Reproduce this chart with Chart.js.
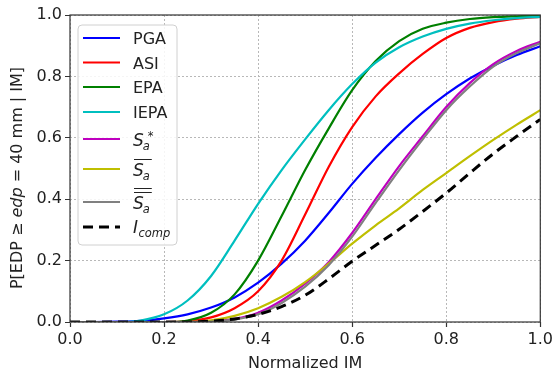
<!DOCTYPE html>
<html>
<head>
<meta charset="utf-8">
<script src="https://cdn.jsdelivr.net/npm/chart.js@4/dist/chart.umd.min.js"></script>
<style>
  html, body { margin: 0; padding: 0; background: #fff; }
  #wrap { width: 556px; height: 374px; }
</style>
</head>
<body>
<div id="wrap"><canvas id="c" width="556" height="374"></canvas></div>
<script>
// ---- data ----
const imValues = [0, 0.05, 0.1, 0.15, 0.2, 0.25, 0.3, 0.35, 0.4, 0.45, 0.5, 0.55, 0.6, 0.65, 0.7, 0.75, 0.8, 0.85, 0.9, 0.95, 1.0];
const pga    = [0, 0, 0.001, 0.004, 0.012, 0.025, 0.047, 0.08, 0.128, 0.19, 0.265, 0.355, 0.45, 0.535, 0.612, 0.682, 0.742, 0.793, 0.835, 0.87, 0.898];
const asi    = [0, 0, 0, 0, 0, 0.003, 0.015, 0.045, 0.1, 0.2, 0.35, 0.505, 0.635, 0.735, 0.81, 0.873, 0.925, 0.958, 0.977, 0.988, 0.994];
const epa    = [0, 0, 0, 0, 0, 0.005, 0.03, 0.09, 0.2, 0.345, 0.495, 0.63, 0.755, 0.85, 0.915, 0.955, 0.975, 0.987, 0.993, 0.996, 0.998];
const iepa   = [0, 0, 0, 0.005, 0.025, 0.07, 0.15, 0.265, 0.385, 0.495, 0.595, 0.69, 0.775, 0.845, 0.895, 0.93, 0.955, 0.972, 0.983, 0.99, 0.994];
const saStar = [0, 0, 0, 0, 0, 0, 0.002, 0.01, 0.03, 0.07, 0.125, 0.195, 0.29, 0.4, 0.508, 0.605, 0.7, 0.778, 0.84, 0.883, 0.913];
const saBar  = [0, 0, 0, 0, 0, 0, 0.005, 0.02, 0.045, 0.082, 0.13, 0.19, 0.255, 0.315, 0.37, 0.43, 0.485, 0.54, 0.593, 0.643, 0.69];
const saDbar = [0, 0, 0, 0, 0, 0, 0.001, 0.008, 0.025, 0.062, 0.115, 0.185, 0.278, 0.388, 0.495, 0.595, 0.69, 0.767, 0.832, 0.876, 0.908];
const iComp  = [0, 0, 0, 0, 0, 0, 0.003, 0.01, 0.025, 0.05, 0.087, 0.14, 0.198, 0.25, 0.302, 0.36, 0.42, 0.485, 0.548, 0.605, 0.66];
const tickValues = [0, 0.2, 0.4, 0.6, 0.8, 1.0];
const seriesNames = ['PGA', 'ASI', 'EPA', 'IEPA', 'Sa*', 'Sa_bar', 'Sa_dbar', 'I_comp'];
const xTitle = 'Normalized IM';

// ---- styles ----
const colors = ['#0000ff', '#ff0000', '#008000', '#00bfbf', '#bf00bf', '#bfbf00', '#808080', '#000000'];
const seriesData = [pga, asi, epa, iepa, saStar, saBar, saDbar, iComp];
const FONT = '"DejaVu Sans", sans-serif';

const datasets = seriesData.map((vals, i) => ({
  label: seriesNames[i],
  data: imValues.map((x, k) => ({ x: x, y: vals[k] })),
  borderColor: colors[i],
  backgroundColor: colors[i],
  borderWidth: i === 7 ? 3 : 2.2,
  borderDash: i === 7 ? [10, 6] : [],
  pointRadius: 0,
  cubicInterpolationMode: 'monotone',
  fill: false,
  order: 8 - i
}));

function drawMathLabel(ctx, kind, x, base) {
  ctx.fillStyle = '#222';
  ctx.textBaseline = 'alphabetic';
  ctx.textAlign = 'left';
  const big = 'italic 17px ' + FONT;
  const small = 'italic 11.5px ' + FONT;
  if (kind === 'I_comp') {
    ctx.font = big; ctx.fillText('I', x, base);
    const w = ctx.measureText('I').width;
    ctx.font = small; ctx.fillText('comp', x + w + 0.5, base + 4);
    return;
  }
  ctx.font = big; ctx.fillText('S', x, base);
  const w = ctx.measureText('S').width;
  ctx.font = small; ctx.fillText('a', x + w - 1, base + 4);
  if (kind === 'Sa*') {
    ctx.font = '11.5px ' + FONT; ctx.fillText('*', x + w + 4, base - 6);
  }
  ctx.strokeStyle = '#222'; ctx.lineWidth = 1;
  if (kind === 'Sa_bar' || kind === 'Sa_dbar') {
    ctx.beginPath(); ctx.moveTo(x + 1, base - 16.5); ctx.lineTo(x + w + 8, base - 16.5); ctx.stroke();
  }
  if (kind === 'Sa_dbar') {
    ctx.beginPath(); ctx.moveTo(x + 1, base - 20.5); ctx.lineTo(x + w + 8, base - 20.5); ctx.stroke();
  }
}

const customPlugin = {
  id: 'custom',
  afterDatasetsDraw(chart) {
    const ctx = chart.ctx;
    const a = chart.chartArea;
    ctx.save();
    // frame
    ctx.strokeStyle = '#333'; ctx.lineWidth = 1.2;
    ctx.strokeRect(a.left, a.top, a.right - a.left, a.bottom - a.top);
    // legend box
    const lx = 78, ly = 25, lw = 99, lh = 220, r = 4;
    ctx.beginPath();
    ctx.moveTo(lx + r, ly); ctx.lineTo(lx + lw - r, ly); ctx.quadraticCurveTo(lx + lw, ly, lx + lw, ly + r);
    ctx.lineTo(lx + lw, ly + lh - r); ctx.quadraticCurveTo(lx + lw, ly + lh, lx + lw - r, ly + lh);
    ctx.lineTo(lx + r, ly + lh); ctx.quadraticCurveTo(lx, ly + lh, lx, ly + lh - r);
    ctx.lineTo(lx, ly + r); ctx.quadraticCurveTo(lx, ly, lx + r, ly);
    ctx.closePath();
    ctx.fillStyle = 'rgba(255,255,255,0.85)'; ctx.fill();
    ctx.strokeStyle = '#d0d0d0'; ctx.lineWidth = 1; ctx.stroke();
    const rows = [38, 62.5, 87, 112, 139, 169, 202, 227];
    const textBase = [44, 68.5, 93, 118, 146, 176, 209, 233];
    for (let i = 0; i < 8; i++) {
      ctx.beginPath();
      ctx.strokeStyle = colors[i];
      ctx.lineWidth = i === 7 ? 3 : 2.2;
      ctx.setLineDash(i === 7 ? [10, 6] : []);
      ctx.moveTo(83, rows[i]); ctx.lineTo(120, rows[i]); ctx.stroke();
      ctx.setLineDash([]);
      if (i < 4) {
        ctx.font = '16px ' + FONT; ctx.fillStyle = '#222';
        ctx.textBaseline = 'alphabetic'; ctx.textAlign = 'left';
        ctx.fillText(seriesNames[i], 133, textBase[i]);
      } else {
        drawMathLabel(ctx, seriesNames[i], 133, textBase[i]);
      }
    }
    ctx.restore();
  },
  afterDraw(chart) {
    const ctx = chart.ctx;
    const a = chart.chartArea;
    ctx.save();
    ctx.fillStyle = '#222';
    // x title
    ctx.font = '16px ' + FONT; ctx.textAlign = 'center'; ctx.textBaseline = 'alphabetic';
    ctx.fillText(xTitle, (a.left + a.right) / 2, 368);
    // y title with italic part
    const parts = [['P[EDP ≥ ', '16px ' + FONT], ['edp', 'italic 16px ' + FONT], [' = 40 mm | IM]', '16px ' + FONT]];
    let total = 0;
    parts.forEach(p => { ctx.font = p[1]; total += ctx.measureText(p[0]).width; });
    ctx.translate(22, 178);
    ctx.rotate(-Math.PI / 2);
    ctx.textAlign = 'left';
    let cx = -total / 2;
    parts.forEach(p => { ctx.font = p[1]; ctx.fillText(p[0], cx, 0); cx += ctx.measureText(p[0]).width; });
    ctx.restore();
  }
};

const axisCommon = {
  type: 'linear',
  min: 0, max: 1,
  afterBuildTicks: (scale) => { scale.ticks = tickValues.map(v => ({ value: v })); },
  ticks: {
    font: { family: FONT, size: 16 },
    color: '#222',
    padding: 3,
    callback: (v) => Number(v).toFixed(1)
  },
  grid: {
    color: '#b8b8b8',
    lineWidth: 1,
    drawTicks: true,
    tickLength: 5,
    tickColor: '#333',
    tickBorderDash: [1, 0],
    tickWidth: 1.2
  },
  border: { display: false, dash: [2, 2] },
  title: { display: false }
};

new Chart(document.getElementById('c'), {
  type: 'line',
  data: { datasets: datasets },
  options: {
    responsive: false,
    animation: false,
    devicePixelRatio: 1,
    layout: { padding: { left: 0, top: 15, right: 14, bottom: 0 } },
    plugins: { legend: { display: false }, tooltip: { enabled: false } },
    scales: {
      x: Object.assign({}, axisCommon, { afterFit: (s) => { s.height = 52; } }),
      y: Object.assign({}, axisCommon, { afterFit: (s) => { s.width = 70; } })
    }
  },
  plugins: [customPlugin]
});
</script>
</body>
</html>
